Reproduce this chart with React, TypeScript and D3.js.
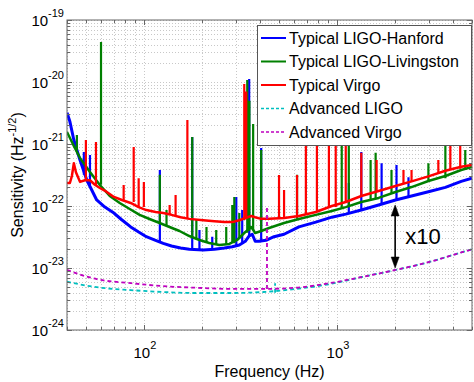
import * as d3 from "d3";

const width = 474;
const height = 382;
const plot = { left: 67, right: 472, top: 20, bottom: 330 };
const font = "Liberation Sans, Arial, Helvetica, sans-serif";

// noise curves, [frequency Hz, strain sensitivity Hz^-1/2]
const hanford: [number, number][] = [
  [40, 3.2e-21], [41.4, 2.3e-21], [43.4, 1.16e-21], [46.7, 5.5e-22], [50.7, 2.6e-22],
  [57, 1.25e-22], [62.8, 9.6e-23], [70, 7.7e-23], [76.8, 6.0e-23], [85.5, 4.6e-23],
  [94, 3.8e-23], [103, 3.2e-23], [115, 2.8e-23], [126, 2.5e-23], [139, 2.26e-23],
  [155, 2.1e-23], [172, 2.0e-23], [203, 1.95e-23], [232, 2.0e-23], [261, 2.1e-23],
  [287, 2.2e-23], [312, 2.35e-23], [335, 2.7e-23], [351, 3.3e-23], [364, 3.5e-23],
  [377, 2.7e-23], [395, 2.7e-23], [429, 2.8e-23], [472, 3.2e-23], [532, 3.5e-23],
  [635, 4.6e-23], [777, 5.5e-23], [940, 6.6e-23], [1110, 7.4e-23], [1336, 8.6e-23],
  [1642, 1.04e-22], [2009, 1.25e-22], [2432, 1.45e-22], [2973, 1.7e-22], [3640, 2.0e-22],
  [4397, 2.5e-22], [5000, 2.8e-22],
];
const livingston: [number, number][] = [
  [40, 1.56e-21], [43.4, 9.3e-22], [46.7, 5.95e-22], [52.6, 3.54e-22], [59.2, 2.18e-22],
  [66.6, 1.45e-22], [75, 1.12e-22], [84.5, 8.95e-23], [95.1, 7.2e-23], [107, 6.17e-23],
  [120.7, 5.32e-23], [135.8, 4.58e-23], [153, 3.95e-23], [172, 3.28e-23], [194, 2.83e-23],
  [218, 2.53e-23], [246, 2.35e-23], [277, 2.44e-23], [304, 2.83e-23], [331, 3.67e-23],
  [360, 4.58e-23], [377, 3.67e-23], [405, 3.95e-23], [445, 4.42e-23], [532, 5.32e-23],
  [635, 6.17e-23], [777, 7.2e-23], [940, 8.3e-23], [1110, 9.6e-23], [1336, 1.16e-22],
  [1642, 1.35e-22], [2009, 1.68e-22], [2432, 2.02e-22], [2973, 2.53e-22], [3640, 3.05e-22],
  [4397, 3.81e-22], [5000, 4.26e-22],
];
const virgo: [number, number][] = [
  [40, 2.35e-22], [41.4, 2.35e-22], [42.4, 3.05e-22], [43.4, 4.9e-22], [44.5, 3.5e-22],
  [46.7, 2.45e-22], [49.5, 2.6e-22], [52.6, 2.6e-22], [55.8, 2.2e-22], [59.2, 1.95e-22],
  [64, 1.7e-22], [70, 1.4e-22], [77, 1.25e-22], [85.5, 1.12e-22], [94, 9.6e-23],
  [103, 8.6e-23], [115, 8.0e-23], [126, 7.7e-23], [139, 7.2e-23], [155, 6.6e-23],
  [172, 6.2e-23], [203, 5.9e-23], [232, 5.7e-23], [261, 5.5e-23], [287, 5.5e-23],
  [312, 5.9e-23], [335, 6.4e-23], [360, 6.9e-23], [377, 6.6e-23], [405, 6.2e-23],
  [445, 6.2e-23], [532, 6.4e-23], [635, 6.9e-23], [777, 8.0e-23], [940, 1.0e-22],
  [1110, 1.16e-22], [1336, 1.45e-22], [1642, 1.75e-22], [2009, 2.1e-22], [2432, 2.5e-22],
  [2973, 3.0e-22], [3640, 3.7e-22], [4397, 4.3e-22], [5000, 4.6e-22],
];
const advLigo: [number, number][] = [
  [40, 6.0e-24], [57, 4.9e-24], [85.5, 4.4e-24], [126, 4.1e-24], [187, 3.95e-24],
  [280, 3.95e-24], [415, 4.1e-24], [613, 4.6e-24], [918, 5.5e-24], [1358, 7.2e-24],
  [2009, 9.3e-24], [3008, 1.25e-23], [4448, 1.8e-23], [5000, 2.0e-23],
];
const advVirgo: [number, number][] = [
  [40, 9.3e-24], [57, 6.6e-24], [85.5, 5.7e-24], [126, 5.1e-24], [187, 4.8e-24],
  [280, 4.6e-24], [415, 4.6e-24], [613, 4.8e-24], [918, 5.7e-24], [1358, 7.2e-24],
  [2009, 9.3e-24], [3008, 1.25e-23], [4448, 1.8e-23], [5000, 2.0e-23],
];

// narrow lines: [frequency, floor, peak]
const hanfordSpikes: [number, number, number][] = [
  [48.9, 3.2e-22, 7.4e-22], [52.6, 2.18e-22, 6.65e-22], [121, 2.73e-23, 3.8e-22],
  [178, 2.02e-23, 1.3e-21], [194, 1.95e-23, 4.1e-23], [226, 2.0e-23, 3.2e-23],
  [301, 2.3e-23, 1.4e-22], [323, 2.5e-23, 8.6e-23], [351, 3.28e-23, 1.12e-20],
  [405, 2.73e-23, 8.6e-22], [1151, 7.4e-23, 2.35e-22], [1336, 8.6e-23, 7.4e-22],
  [1702, 1.04e-22, 4.9e-22], [2033, 1.25e-22, 4.58e-22], [2345, 1.4e-22, 2.9e-22],
];
const livingstonSpikes: [number, number, number][] = [
  [45, 8.0e-22, 1.4e-21], [60, 2.2e-22, 4.4e-20], [121, 5.3e-23, 3.2e-22],
  [131, 4.8e-23, 8.6e-23], [178, 3.05e-23, 1.3e-21], [187, 2.9e-23, 5.95e-23],
  [211, 2.6e-23, 4.58e-23], [237, 2.4e-23, 4.1e-23], [267, 2.4e-23, 4.58e-23],
  [287, 2.6e-23, 1.04e-22], [294, 2.5e-23, 1.4e-22], [312, 3.0e-23, 7.7e-23],
  [343, 3.7e-23, 1.08e-20], [352, 4.0e-23, 5.0e-21], [368, 4.1e-23, 2.1e-21],
  [405, 3.8e-23, 8.0e-22], [621, 6.2e-23, 3.2e-22], [1058, 9.3e-23, 2.44e-21],
  [1151, 1.0e-22, 1.04e-21], [1493, 1.25e-22, 5.5e-22], [1585, 1.35e-22, 7.2e-22],
  [1915, 1.6e-22, 3.8e-22], [2973, 2.5e-22, 4.9e-22], [3640, 2.8e-22, 1.3e-21],
  [4614, 3.8e-22, 8.0e-22],
];
const virgoSpikes: [number, number, number][] = [
  [50.1, 2.6e-22, 1.16e-21], [56.5, 2.18e-22, 1.08e-21], [78.6, 1.25e-22, 2.18e-22],
  [88.6, 1.16e-22, 8.95e-22], [94, 9.6e-23, 2.8e-22], [100, 9.6e-23, 2.44e-22],
  [136, 7.2e-23, 1.04e-22], [146, 6.9e-23, 1.5e-22], [168, 6.4e-23, 2.44e-21],
  [331, 5.95e-23, 9.3e-21], [339, 6.2e-23, 7.0e-21], [501, 6.17e-23, 3.16e-22],
  [532, 6.4e-23, 1.81e-22], [621, 6.6e-23, 3.16e-22], [690, 7.4e-23, 2.44e-21],
  [787, 8.0e-23, 2.94e-21], [908, 9.3e-23, 1.68e-21], [985, 9.6e-23, 2.44e-21],
  [1110, 1.16e-22, 2.44e-21], [1336, 1.45e-22, 7.2e-22], [1604, 1.68e-22, 5.5e-22],
  [2209, 2.27e-22, 3.8e-22], [2432, 2.5e-22, 3.8e-22], [3347, 3.4e-22, 5.5e-22],
  [3862, 3.8e-22, 1.5e-21], [4345, 4.0e-22, 1.5e-21],
];
const advLigoSpikes: [number, number, number][] = [[478, 4.0e-24, 5.7e-24]];
const advVirgoSpikes: [number, number, number][] = [[434, 4.6e-24, 1.0e-22]];

const xTickExps = [2, 3];
const yTickExps = [-24, -23, -22, -21, -20, -19];
const legendLabels = [
  "Typical LIGO-Hanford",
  "Typical LIGO-Livingston",
  "Typical Virgo",
  "Advanced LIGO",
  "Advanced Virgo",
];
// the "x10" arrow: frequency, top, bottom
const arrowF = 2000;
const arrowTop = 1.04e-22;
const arrowBottom = 1.0e-23;

export default function App() {
  const x = d3.scaleLog().domain([40, 5000]).range([plot.left, plot.right]);
  const y = d3.scaleLog().domain([1e-24, 1e-19]).range([plot.bottom, plot.top]);

  const line = d3.line<[number, number]>().x(d => x(d[0])).y(d => y(d[1]));
  const smooth = d3.line<[number, number]>().x(d => x(d[0])).y(d => y(d[1])).curve(d3.curveMonotoneX);
  const spikePath = (s: [number, number, number][]) =>
    s.map(d => `M${x(d[0])},${y(d[1])}V${y(d[2])}`).join("");

  // minor grid values, 1..9 per decade
  const xGrid: number[] = [];
  for (let e = 1; e <= 3; e++) for (let k = 1; k <= 9; k++) {
    const v = k * Math.pow(10, e);
    if (v >= 40 && v <= 5000) xGrid.push(v);
  }
  const yGrid: number[] = [];
  for (let e = -24; e <= -20; e++) for (let k = 1; k <= 9; k++) yGrid.push(k * Math.pow(10, e));
  yGrid.push(1e-19);

  const series = [
    { data: hanford, spikes: hanfordSpikes, color: "#0000ff", w: 3, dash: null, gen: line },
    { data: livingston, spikes: livingstonSpikes, color: "#008000", w: 2.5, dash: null, gen: line },
    { data: virgo, spikes: virgoSpikes, color: "#ff0000", w: 2.5, dash: null, gen: line },
    { data: advLigo, spikes: advLigoSpikes, color: "#00bfbf", w: 1.8, dash: "4,3", gen: smooth },
    { data: advVirgo, spikes: advVirgoSpikes, color: "#bf00bf", w: 1.8, dash: "4,3", gen: smooth },
  ];

  const ax = x(arrowF);
  const aTop = y(arrowTop);
  const aBot = y(arrowBottom);

  const lg = { x: 257, y: 25, w: 214, h: 120, row: 23.5 };

  return (
    <svg width={width} height={height} style={{ position: "absolute", left: 0, top: 0 }} fontFamily={font}>
      <rect x={0} y={0} width={width} height={height} fill="#fff" />
      <defs>
        <clipPath id="plotclip">
          <rect x={plot.left} y={plot.top} width={plot.right - plot.left} height={plot.bottom - plot.top} />
        </clipPath>
      </defs>

      {/* grid */}
      <g stroke="#c8c8c8" strokeWidth={1} strokeDasharray="1,2">
        {xGrid.map((v, i) => (
          <line key={"gx" + i} x1={Math.round(x(v)) + 0.5} x2={Math.round(x(v)) + 0.5} y1={plot.top} y2={plot.bottom} />
        ))}
        {yGrid.map((v, i) => (
          <line key={"gy" + i} x1={plot.left} x2={plot.right} y1={Math.round(y(v)) + 0.5} y2={Math.round(y(v)) + 0.5} />
        ))}
      </g>

      {/* curves */}
      <g clipPath="url(#plotclip)" fill="none" strokeLinejoin="round">
        {series.map((s, i) => (
          <g key={i} stroke={s.color} strokeWidth={s.w}>
            <path d={s.gen(s.data) || ""} strokeDasharray={s.dash || undefined} />
            <path d={spikePath(s.spikes)} strokeDasharray={s.dash || undefined} strokeWidth={s.dash ? s.w : 2.2} />
          </g>
        ))}
      </g>

      {/* box and ticks */}
      <rect x={plot.left} y={plot.top} width={plot.right - plot.left} height={plot.bottom - plot.top}
        fill="none" stroke="#666" strokeWidth={1} />
      <g stroke="#666" strokeWidth={1}>
        {xGrid.map((v, i) => {
          const px = Math.round(x(v)) + 0.5;
          const len = xTickExps.some(e => Math.pow(10, e) === v) ? 5 : 3;
          return (
            <g key={"tx" + i}>
              <line x1={px} x2={px} y1={plot.bottom} y2={plot.bottom - len} />
              <line x1={px} x2={px} y1={plot.top} y2={plot.top + len} />
            </g>
          );
        })}
        {yGrid.map((v, i) => {
          const py = Math.round(y(v)) + 0.5;
          const len = yTickExps.some(e => Math.abs(Math.pow(10, e) - v) / v < 1e-6) ? 5 : 3;
          return (
            <g key={"ty" + i}>
              <line x1={plot.left} x2={plot.left + len} y1={py} y2={py} />
              <line x1={plot.right} x2={plot.right - len} y1={py} y2={py} />
            </g>
          );
        })}
      </g>

      {/* tick labels */}
      <g fill="#000">
        {yTickExps.map(e => (
          <text key={"yl" + e} x={64} y={y(Math.pow(10, e)) + 5.5} textAnchor="end" fontSize={15}>
            10<tspan dy={-9} fontSize={11}>{e}</tspan>
          </text>
        ))}
        {xTickExps.map(e => (
          <text key={"xl" + e} x={x(Math.pow(10, e)) + 1} y={358} textAnchor="middle" fontSize={15}>
            10<tspan dy={-9} fontSize={11}>{e}</tspan>
          </text>
        ))}
      </g>

      {/* axis titles */}
      <text x={(plot.left + plot.right) / 2} y={377} textAnchor="middle" fontSize={16}>Frequency (Hz)</text>
      <text transform={`translate(23,${(plot.top + plot.bottom) / 2}) rotate(-90)`} textAnchor="middle" fontSize={16}>
        Sensitivity (Hz<tspan dy={-7} fontSize={11}>-1/2</tspan><tspan dy={7}>)</tspan>
      </text>

      {/* x10 arrow */}
      <g stroke="#000" fill="#000">
        <line x1={ax} x2={ax} y1={aTop + 8} y2={aBot - 8} strokeWidth={1.6} />
        <path d={`M${ax},${aTop}L${ax - 4},${aTop + 11}L${ax + 4},${aTop + 11}Z`} strokeWidth={0.5} />
        <path d={`M${ax},${aBot}L${ax - 4},${aBot - 11}L${ax + 4},${aBot - 11}Z`} strokeWidth={0.5} />
      </g>
      <text x={ax + 10} y={(aTop + aBot) / 2 + 8} fontSize={22}>x10</text>

      {/* legend */}
      <rect x={lg.x + 0.5} y={lg.y + 0.5} width={lg.w} height={lg.h} fill="#fff" stroke="#555" strokeWidth={1} />
      {legendLabels.map((lab, i) => {
        const s = series[i];
        const cy = 38 + i * lg.row;
        return (
          <g key={lab}>
            <line x1={261} x2={286} y1={cy} y2={cy} stroke={s.color} strokeWidth={s.dash ? 1.6 : 2}
              strokeDasharray={s.dash ? "3,2" : undefined} />
            <text x={289} y={cy + 5.5} fontSize={16}>{lab}</text>
          </g>
        );
      })}
    </svg>
  );
}
